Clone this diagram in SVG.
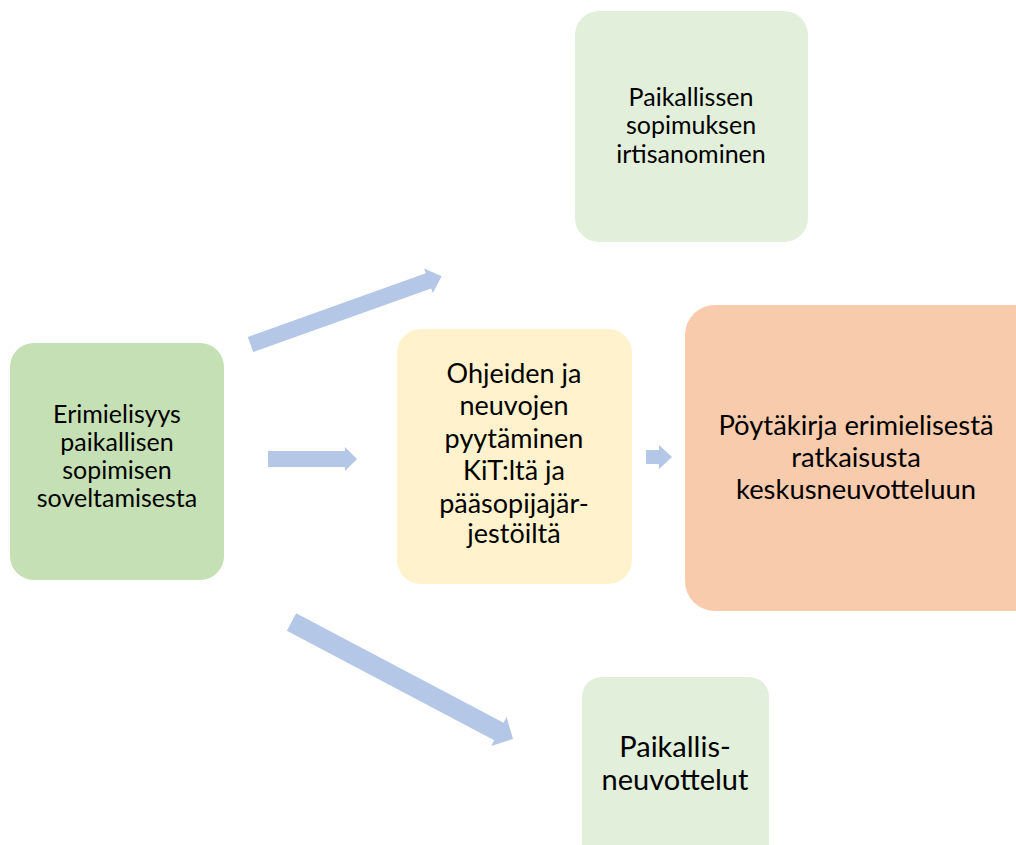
<svg xmlns="http://www.w3.org/2000/svg" width="1016" height="845" viewBox="0 0 1016 845">
<style>
  .lbl { font-family: Lato, "Liberation Sans", sans-serif; fill: #000000; text-anchor: middle; }
  .arrow { fill: #b4c7e7; }
</style>
<rect width="1016" height="845" fill="#ffffff"/>
<g id="connectors">
  <path class="arrow" transform="translate(250.5,344.5) rotate(-19.68)" d="M0,-8 L189,-8 L189,-13 L203,0 L189,13 L189,8 L0,8 Z"/>
  <path class="arrow" d="M268,451 L345,451 L345,447 L357,459 L345,471 L345,467 L268,467 Z"/>
  <path class="arrow" d="M646,450 L659,450 L659,445 L672,457 L659,469 L659,464 L646,464 Z"/>
  <path class="arrow" transform="translate(291.5,622) rotate(27.84)" d="M0,-10 L234.5,-10 L234.5,-16.5 L250.5,0 L234.5,16.5 L234.5,10 L0,10 Z"/>
</g>
<g id="node-erimielisyys">
  <rect x="10" y="343" width="214" height="237" rx="24" fill="#c5e0b4"/>
  <text class="lbl" font-size="25" x="117" y="423">Erimielisyys</text>
  <text class="lbl" font-size="25" x="117" y="451">paikallisen</text>
  <text class="lbl" font-size="25" x="117" y="479">sopimisen</text>
  <text class="lbl" font-size="25" x="117" y="507">soveltamisesta</text>
</g>
<g id="node-irtisanominen">
  <rect x="575" y="11" width="233" height="231" rx="24" fill="#e2efda"/>
  <text class="lbl" font-size="25" x="691" y="106">Paikallissen</text>
  <text class="lbl" font-size="25" x="691" y="134">sopimuksen</text>
  <text class="lbl" font-size="25" x="691" y="163">irtisanominen</text>
</g>
<g id="node-ohjeiden">
  <rect x="397" y="329" width="235" height="255" rx="24" fill="#fff2cc"/>
  <text class="lbl" font-size="27" x="514" y="383">Ohjeiden ja</text>
  <text class="lbl" font-size="27" x="514" y="415">neuvojen</text>
  <text class="lbl" font-size="27" x="514" y="448">pyytäminen</text>
  <text class="lbl" font-size="27" x="514" y="480">KiT:ltä ja</text>
  <text class="lbl" font-size="27" x="514" y="513">pääsopijajär-</text>
  <text class="lbl" font-size="27" x="514" y="543">jestöiltä</text>
</g>
<g id="node-poytakirja">
  <rect x="685" y="305" width="360" height="306" rx="30" fill="#f8cbad"/>
  <text class="lbl" font-size="27.4" x="856" y="435">Pöytäkirja erimielisestä</text>
  <text class="lbl" font-size="27.4" x="856" y="467">ratkaisusta</text>
  <text class="lbl" font-size="27.4" x="856" y="499">keskusneuvotteluun</text>
</g>
<g id="node-paikallisneuvottelut">
  <rect x="582" y="677" width="187" height="200" rx="20" fill="#e2efda"/>
  <text class="lbl" font-size="29" x="675" y="757">Paikallis-</text>
  <text class="lbl" font-size="29" x="675" y="790">neuvottelut</text>
</g>
</svg>
